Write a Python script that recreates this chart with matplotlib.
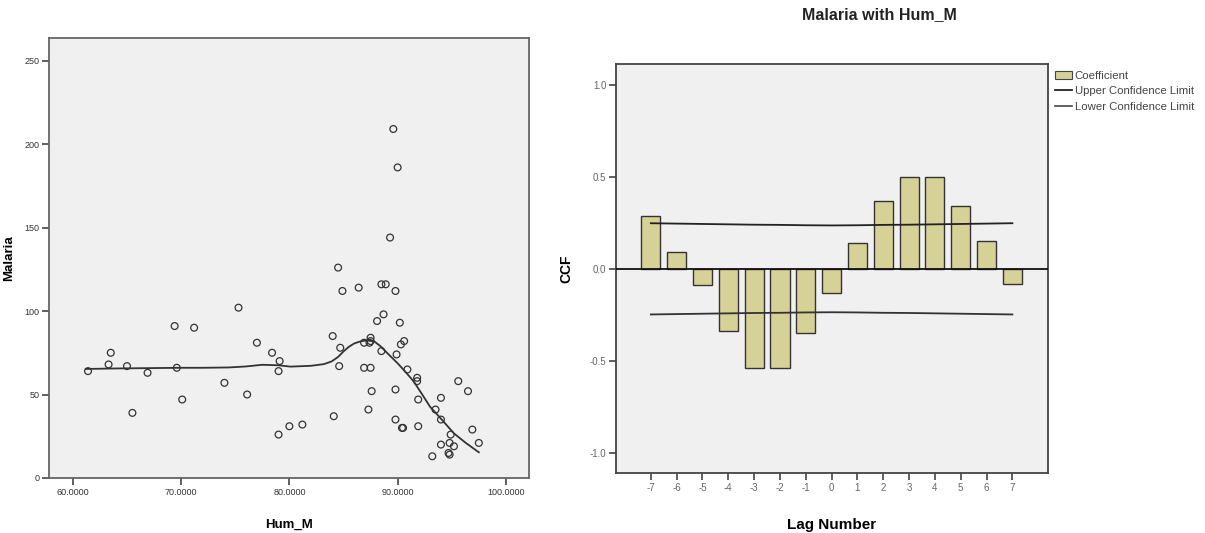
import matplotlib
matplotlib.use("Agg")
import matplotlib.pyplot as plt
from matplotlib.patches import Patch
from matplotlib.lines import Line2D

plt.rcParams['font.family'] = ['Liberation Sans', 'DejaVu Sans']
plt.rcParams['axes.unicode_minus'] = False

# scatter: monthly humidity vs malaria cases
hum_m = [61.4, 63.3, 63.5, 65.0, 65.5, 66.9, 69.4, 69.6, 70.1, 71.2,
         74.0, 75.3, 76.1, 77.0, 78.4, 79.1, 79.0, 79.0, 80.0, 81.2,
         84.5, 84.9, 86.4, 88.5, 88.9, 89.8, 88.7, 88.1, 90.2, 84.0,
         84.7, 86.9, 87.4, 87.5, 87.5, 90.6, 90.3, 88.5, 89.9, 84.6,
         86.9, 87.5, 90.9, 91.8, 91.8, 95.6, 96.5, 87.6, 89.8, 91.9,
         94.0, 93.5, 94.0, 87.3, 84.1, 89.8, 90.4, 90.5, 91.9, 94.9,
         96.9, 94.0, 94.8, 95.2, 97.5, 94.7, 94.8, 93.2, 89.6, 90.0,
         89.3]
malaria = [64, 68, 75, 67, 39, 63, 91, 66, 47, 90,
           57, 102, 50, 81, 75, 70, 64, 26, 31, 32,
           126, 112, 114, 116, 116, 112, 98, 94, 93, 85,
           78, 81, 81, 82, 84, 82, 80, 76, 74, 67,
           66, 66, 65, 60, 58, 58, 52, 52, 53, 47,
           48, 41, 35, 41, 37, 35, 30, 30, 31, 26,
           29, 20, 21, 19, 21, 15, 14, 13, 209, 186,
           144]

# loess fit line
fit_x = [61.2, 64.0, 67.0, 70.0, 72.0, 74.4, 76.0, 77.5, 79.0, 80.1,
         82.0, 83.2, 83.9, 84.5, 85.0, 85.5, 86.0, 86.6, 87.2, 87.8,
         88.4, 89.2, 90.0, 90.8, 91.5, 92.4, 93.0, 93.7, 94.4, 95.2,
         96.3, 97.5]
fit_y = [65.3, 65.6, 65.8, 66.0, 66.0, 66.2, 66.8, 67.8, 67.5, 66.7,
         67.2, 68.2, 69.8, 72.5, 75.8, 78.6, 80.6, 81.9, 82.4, 82.0,
         79.0, 73.8, 68.7, 63.0, 57.7, 48.7, 42.6, 37.7, 32.6, 26.7,
         21.0, 15.4]

# cross-correlation
lags = list(range(-7, 8))
ccf = [0.29, 0.09, -0.09, -0.34, -0.54, -0.54, -0.35, -0.13,
       0.14, 0.37, 0.50, 0.50, 0.34, 0.15, -0.08]
upper = [0.248, 0.246, 0.244, 0.242, 0.240, 0.239, 0.237, 0.236,
         0.237, 0.239, 0.240, 0.242, 0.244, 0.246, 0.248]
lower = [-v for v in upper]

bg = '#f0f0f0'
bar_col = '#d6d196'

fig = plt.figure(figsize=(12.05, 5.33), dpi=100)

# ---- left: scatter with fit line
ax1 = fig.add_axes([0.0407, 0.1032, 0.398, 0.8255])
ax1.set_facecolor(bg)
ax1.scatter(hum_m, malaria, s=24, facecolors='none', edgecolors='#333333',
            linewidths=0.9, zorder=3)
ax1.plot(fit_x, fit_y, color='#333333', lw=1.3, zorder=2)
ax1.set_xlim(57.8, 102.1)
ax1.set_ylim(0, 263.5)
ax1.set_xticks([60, 70, 80, 90, 100])
ax1.set_xticklabels(['60.0000', '70.0000', '80.0000', '90.0000', '100.0000'])
ax1.set_yticks([0, 50, 100, 150, 200, 250])
ax1.tick_params(direction='out', length=5, width=1.2, color='#444444',
                labelsize=6.5, labelcolor='#333333', pad=2)
for sp in ax1.spines.values():
    sp.set_color('#666666')
    sp.set_linewidth(1.3)
ax1.set_xlabel('Hum_M', fontsize=9.5, fontweight='bold')
ax1.set_ylabel('Malaria', fontsize=9.5, fontweight='bold')
ax1.xaxis.set_label_coords(0.5, -0.093)
ax1.yaxis.set_label_coords(-0.071, 0.5)

# ---- right: CCF bars with confidence limits
ax2 = fig.add_axes([0.5112, 0.1126, 0.3585, 0.7674])
ax2.set_facecolor(bg)
ax2.bar(lags, ccf, width=0.74, color=bar_col, edgecolor='#333333',
        linewidth=1.0, zorder=2)
ax2.axhline(0, color='#111111', lw=1.3, zorder=3)
ax2.plot(lags, upper, color='#222222', lw=1.3, zorder=4)
ax2.plot(lags, lower, color='#333333', lw=1.3, zorder=4)
ax2.set_xlim(-8.35, 8.38)
ax2.set_ylim(-1.11, 1.114)
ax2.set_xticks(lags)
ax2.set_yticks([-1.0, -0.5, 0.0, 0.5, 1.0])
ax2.set_yticklabels(['-1.0', '-0.5', '0.0', '0.5', '1.0'])
ax2.tick_params(direction='out', length=5, width=1.2, color='#444444',
                labelsize=7, labelcolor='#666666', pad=2)
for sp in ax2.spines.values():
    sp.set_color('#444444')
    sp.set_linewidth(1.3)
ax2.set_xlabel('Lag Number', fontsize=11, fontweight='bold')
ax2.set_ylabel('CCF', fontsize=10, fontweight='bold')
ax2.xaxis.set_label_coords(0.5, -0.11)
ax2.yaxis.set_label_coords(-0.0995, 0.5)

handles = [Patch(facecolor=bar_col, edgecolor='#444444', linewidth=0.8),
           Line2D([], [], color='#222222', lw=1.3),
           Line2D([], [], color='#555555', lw=1.3)]
ax2.legend(handles, ['Coefficient', 'Upper Confidence Limit',
                     'Lower Confidence Limit'],
           loc='upper left', bbox_to_anchor=(1.005, 0.995), borderaxespad=0,
           frameon=False, fontsize=8.2, handlelength=1.5, handleheight=0.8,
           handletextpad=0.25, labelspacing=0.45, labelcolor='#444444')

fig.text(0.730, 0.972, 'Malaria with Hum_M', ha='center', va='center',
         fontsize=11.5, fontweight='bold', color='#222222')

fig.savefig('out.png', dpi=100)
